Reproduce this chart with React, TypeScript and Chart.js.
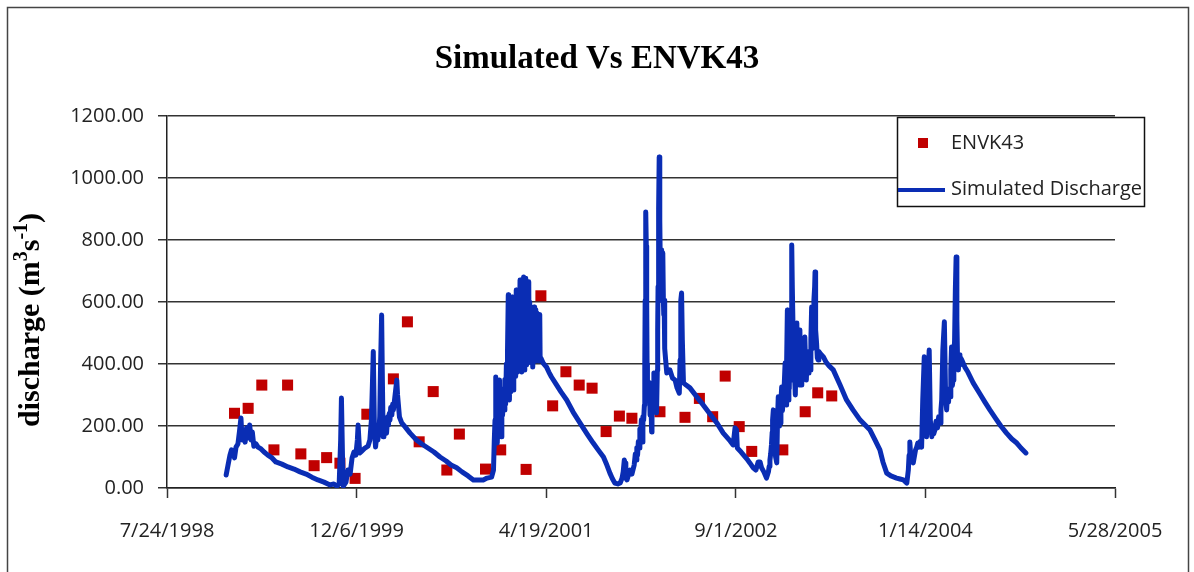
import { useEffect, useRef } from 'react';
import { Chart, registerables } from 'chart.js';

Chart.register(...registerables);

// Axis ranges (x values are Excel-style day serials; 36000 = 7/24/1998)
const xMin = 36000;
const xMax = 38500;
const xStep = 500;
const yMin = 0;
const yMax = 1200;
const yStep = 200;

const chartTitle = 'Simulated Vs ENVK43';
const obsLabel = 'ENVK43';
const simLabel = 'Simulated Discharge';

// Observed discharge (ENVK43): day serial, m3/s
const obsDay = [
  36178, 36214, 36250, 36282, 36318, 36353, 36388, 36421, 36456, 36496,
  36527, 36597, 36634, 36665, 36702, 36738, 36771, 36840, 36880, 36947,
  36986, 37017, 37052, 37087, 37121, 37158, 37193, 37226, 37300, 37366,
  37404, 37439, 37472, 37509, 37542, 37624, 37683, 37716, 37753,
];
const obsFlow = [
  241, 257, 332, 123, 332, 110, 72, 98, 80, 31,
  238, 352, 536, 149, 311, 58, 174, 61, 123, 60,
  620, 265, 375, 332, 322, 182, 232, 225, 246, 228,
  289, 230, 361, 198, 118, 123, 246, 307, 297,
];

// Simulated discharge, [day serial, m3/s], one list per wet season
const sim1999: number[][] = [
  [36156,42],[36161,74],[36166,106],[36170,123],[36174,116],[36178,97],[36182,132],[36187,142],[36191,181],[36195,226],
  [36198,155],[36202,187],[36206,148],[36210,194],[36214,161],[36218,203],[36222,155],[36225,181],[36229,135],[36235,142],
  [36240,132],[36248,126],[36256,116],[36266,106],[36277,97],[36287,84],[36303,77],[36319,68],[36335,61],[36351,52],
  [36367,45],[36382,35],[36398,26],[36414,19],[36430,10],[36440,13],[36448,6],[36454,13],[36458,155],[36460,290],
  [36463,90],[36465,6],[36472,19],[36477,58],[36483,45],[36488,97],[36493,116],[36498,106],
];
const sim2000: number[][] = [
  [36502,155],[36504,203],[36508,113],[36514,119],[36522,129],[36530,135],[36535,155],[36539,219],[36542,348],[36544,440],
  [36547,187],[36550,132],[36553,170],[36556,155],[36559,187],[36561,230],[36563,381],[36566,558],[36568,348],[36570,165],
  [36572,210],[36575,187],[36577,220],[36579,177],[36582,230],[36584,203],[36586,240],[36588,219],[36590,260],[36593,235],
  [36595,270],[36597,252],[36600,284],[36603,316],[36606,348],[36608,300],[36613,229],[36619,210],[36628,197],[36641,177],
  [36658,155],[36672,142],[36688,129],[36704,116],[36720,100],[36736,87],[36749,74],[36764,65],[36778,52],[36794,39],
  [36808,26],[36820,26],[36834,26],[36844,32],[36856,35],
];
const sim2001: number[][] = [
  [36861,58],[36863,150],[36865,219],[36867,358],[36869,160],[36871,145],[36873,230],[36875,284],[36877,348],[36879,190],
  [36881,165],[36883,280],[36885,235],[36887,320],[36889,252],[36891,350],[36893,270],[36895,400],[36897,300],[36898,445],
  [36900,623],[36901,480],[36902,300],[36903,284],[36905,520],[36906,310],[36907,470],[36909,580],[36910,616],[36911,500],
  [36912,330],[36913,316],[36914,480],[36915,348],[36916,520],[36917,380],[36918,600],[36919,542],[36920,360],[36921,639],
  [36922,560],[36923,380],[36924,374],[36925,560],[36926,381],[36927,590],[36928,400],[36929,606],[36930,560],[36931,671],
  [36932,400],[36933,640],[36934,390],[36935,374],[36936,606],[36937,420],[36938,650],[36939,560],[36940,681],[36941,410],
  [36942,381],[36943,620],[36944,574],[36945,420],[36946,677],[36947,560],[36948,397],[36949,600],[36950,435],[36951,606],
  [36952,410],[36953,640],[36954,665],[36955,420],[36956,600],[36957,406],[36958,560],[36959,413],[36960,520],[36961,461],
  [36962,413],[36963,540],[36964,461],[36965,390],[36966,500],[36967,420],[36968,584],[36969,420],[36970,550],[36971,410],
  [36972,575],[36973,430],[36974,565],[36975,413],[36977,419],[36979,500],[36981,410],[36983,560],[36984,413],[36986,419],
  [36992,403],[37001,390],[37007,374],[37014,358],[37026,335],[37039,310],[37054,284],[37071,245],[37089,210],[37108,174],
  [37124,145],[37137,123],[37151,100],[37160,74],[37168,48],[37175,29],[37181,16],[37189,13],[37195,16],[37200,32],
  [37203,52],[37206,90],[37208,81],[37210,32],[37213,26],[37221,58],[37226,45],
];
const sim2002: number[][] = [
  [37232,74],[37235,110],[37237,90],[37239,130],[37241,106],[37243,150],[37245,129],[37247,190],[37249,165],[37251,220],
  [37252,187],[37254,148],[37255,230],[37257,219],[37259,268],[37260,400],[37261,606],[37262,780],[37263,890],[37264,780],
  [37265,606],[37266,400],[37267,284],[37269,320],[37270,290],[37272,340],[37274,235],[37276,300],[37278,181],[37279,280],
  [37281,316],[37283,290],[37284,371],[37286,300],[37287,284],[37289,350],[37291,242],[37293,380],[37294,510],[37295,650],
  [37296,768],[37297,900],[37298,1068],[37299,960],[37300,865],[37301,700],[37302,606],[37303,768],[37304,650],[37305,768],
  [37306,606],[37307,700],[37308,758],[37309,606],[37310,560],[37311,606],[37312,519],[37313,450],[37315,413],[37318,371],
  [37322,374],[37326,381],[37333,355],[37340,348],[37345,323],[37351,306],[37353,413],[37355,606],[37357,629],[37359,477],
  [37362,339],[37369,332],[37379,323],[37397,294],[37414,268],[37432,239],[37450,210],[37467,177],[37485,152],[37493,139],
  [37498,194],[37502,187],[37504,129],[37514,116],[37529,94],[37537,81],[37546,65],[37553,58],[37559,84],[37564,84],
  [37568,65],[37574,52],[37581,32],
];
const sim2003: number[][] = [
  [37586,52],[37588,70],[37590,90],[37592,110],[37594,139],[37596,180],[37597,219],[37599,252],[37601,155],[37603,123],
  [37605,100],[37608,81],[37610,219],[37612,294],[37614,200],[37615,235],[37617,210],[37619,280],[37621,326],[37623,250],
  [37626,300],[37628,340],[37630,403],[37631,300],[37633,268],[37634,400],[37636,574],[37637,420],[37639,284],[37640,380],
  [37641,320],[37643,487],[37644,420],[37646,348],[37647,600],[37648,784],[37649,650],[37651,510],[37652,400],[37653,510],
  [37655,360],[37657,300],[37659,450],[37661,532],[37662,420],[37663,348],[37665,403],[37667,332],[37669,510],[37670,420],
  [37672,332],[37674,358],[37675,450],[37677,413],[37679,470],[37682,487],[37684,400],[37686,348],[37688,420],[37691,371],
  [37693,440],[37696,381],[37698,477],[37700,584],[37702,450],[37704,477],[37706,606],[37708,650],[37709,697],[37710,600],
  [37711,510],[37713,468],[37715,420],[37717,413],[37719,440],[37722,435],[37731,423],[37738,406],[37746,394],[37757,381],
  [37775,332],[37792,284],[37809,252],[37828,219],[37841,203],[37854,187],[37867,155],[37880,123],[37888,84],[37898,48],
  [37909,39],[37924,32],[37933,29],[37942,26],[37951,16],
];
const sim2004: number[][] = [
  [37955,58],[37957,106],[37959,148],[37962,90],[37968,81],[37974,123],[37977,132],[37980,145],[37983,132],[37986,150],
  [37990,132],[37993,284],[37997,423],[38000,219],[38003,165],[38005,250],[38007,348],[38010,445],[38013,219],[38017,165],
  [38020,200],[38022,175],[38025,187],[38028,215],[38032,194],[38035,230],[38039,210],[38041,252],[38043,284],[38046,445],
  [38050,536],[38053,316],[38056,252],[38058,300],[38061,277],[38063,320],[38065,294],[38067,381],[38069,455],[38071,330],
  [38073,348],[38075,420],[38077,477],[38079,639],[38081,745],[38083,542],[38085,400],[38087,381],[38089,430],[38091,397],
  [38093,420],[38096,413],[38104,390],[38112,374],[38126,339],[38144,303],[38157,277],[38170,252],[38186,223],[38199,200],
  [38214,177],[38228,158],[38241,145],[38252,129],[38265,113],
];

const simSeasons = [sim1999, sim2000, sim2001, sim2002, sim2003, sim2004];

const obsColor = '#C00000';
const simColor = '#0A2DB4';

function serialToLabel(s: number): string {
  const d = new Date(Math.round((s - 25569) * 86400000));
  return `${d.getUTCMonth() + 1}/${d.getUTCDate()}/${d.getUTCFullYear()}`;
}

const decorPlugin = {
  id: 'decor',
  afterDraw(chart: any) {
    const ctx: CanvasRenderingContext2D = chart.ctx;
    ctx.save();
    // outer frame
    ctx.strokeStyle = '#444';
    ctx.lineWidth = 1.5;
    ctx.strokeRect(7.5, 7.5, 1181, 600);

    // title
    ctx.fillStyle = '#000';
    ctx.font = 'bold 33px "Liberation Serif", "Times New Roman", serif';
    ctx.textAlign = 'center';
    ctx.textBaseline = 'alphabetic';
    ctx.fillText(chartTitle, 597, 68);

    // y-axis title with superscripts
    ctx.save();
    ctx.translate(39, 320);
    ctx.rotate(-Math.PI / 2);
    const big = 'bold 30px "Liberation Serif", "Times New Roman", serif';
    const sup = 'bold 20px "Liberation Serif", "Times New Roman", serif';
    const parts: [string, string, number][] = [
      ['discharge (m', big, 0],
      ['3', sup, -12],
      ['s', big, 0],
      ['-1', sup, -12],
      [')', big, 0],
    ];
    let total = 0;
    for (const [t, f] of parts) { ctx.font = f; total += ctx.measureText(t).width; }
    let cx = -total / 2;
    ctx.textAlign = 'left';
    for (const [t, f, dy] of parts) {
      ctx.font = f;
      ctx.fillText(t, cx, dy);
      cx += ctx.measureText(t).width;
    }
    ctx.restore();

    // legend
    const lx = 897, ly = 117, lw = 247, lh = 89;
    ctx.fillStyle = '#fff';
    ctx.fillRect(lx, ly, lw, lh);
    ctx.strokeStyle = '#111';
    ctx.lineWidth = 1.5;
    ctx.strokeRect(lx + 0.5, ly + 0.5, lw, lh);
    ctx.fillStyle = obsColor;
    ctx.fillRect(918, 138, 10, 10);
    ctx.strokeStyle = simColor;
    ctx.lineWidth = 4;
    ctx.beginPath();
    ctx.moveTo(898, 190);
    ctx.lineTo(945, 190);
    ctx.stroke();
    ctx.fillStyle = '#222';
    ctx.font = '20px "Open Sans", sans-serif';
    ctx.textAlign = 'left';
    ctx.textBaseline = 'middle';
    ctx.fillText(obsLabel, 951, 143);
    ctx.fillText(simLabel, 951, 189);
    ctx.restore();
  },
};

export default function App() {
  const ref = useRef<HTMLCanvasElement>(null);
  useEffect(() => {
    const tickFont = { family: '"Open Sans", sans-serif', size: 20 };
    const simPoints = simSeasons.flat().map(([x, y]) => ({ x, y }));
    const chart = new Chart(ref.current!, {
      type: 'scatter',
      data: {
        datasets: [
          {
            label: simLabel,
            data: simPoints,
            showLine: true,
            borderColor: simColor,
            backgroundColor: simColor,
            borderWidth: 5,
            pointRadius: 0,
            tension: 0,
            borderJoinStyle: 'round',
            borderCapStyle: 'round',
            order: 0,
          },
          {
            label: obsLabel,
            data: obsDay.map((x, i) => ({ x, y: obsFlow[i] })),
            showLine: false,
            pointStyle: 'rect',
            pointRadius: 7.8,
            borderWidth: 0,
            backgroundColor: obsColor,
            borderColor: obsColor,
            order: 1,
          },
        ],
      } as any,
      options: {
        responsive: false,
        animation: false,
        layout: { padding: { top: 116, right: 79, left: 0, bottom: 0 } },
        plugins: {
          legend: { display: false },
          title: { display: false },
          tooltip: { enabled: false },
        },
        scales: {
          x: {
            type: 'linear',
            min: xMin,
            max: xMax,
            afterFit: (s: any) => { s.height = 84; },
            ticks: {
              stepSize: xStep,
              autoSkip: false,
              maxRotation: 0,
              padding: 21,
              color: '#222',
              font: tickFont,
              callback: (v: any) => serialToLabel(Number(v)),
            },
            grid: {
              drawOnChartArea: false,
              drawTicks: true,
              tickLength: 10,
              tickColor: '#333',
              tickWidth: 1.5,
            },
            border: { display: true, color: '#222', width: 1.5 },
          },
          y: {
            min: yMin,
            max: yMax,
            afterFit: (s: any) => { s.width = 167; },
            ticks: {
              stepSize: yStep,
              padding: 14,
              color: '#222',
              font: tickFont,
              callback: (v: any) => Number(v).toFixed(2),
            },
            grid: {
              color: '#333',
              lineWidth: 1.5,
              drawTicks: true,
              tickLength: 9,
              tickColor: '#333',
              tickWidth: 1.5,
            },
            border: { display: true, color: '#222', width: 1.5 },
          },
        },
      } as any,
      plugins: [decorPlugin],
    });
    return () => chart.destroy();
  }, []);
  return (
    <div style={{ position: 'absolute', left: 0, top: 0, width: 1194, height: 572, background: '#fff' }}>
      <canvas ref={ref} width={1194} height={572} style={{ display: 'block' }} />
    </div>
  );
}
